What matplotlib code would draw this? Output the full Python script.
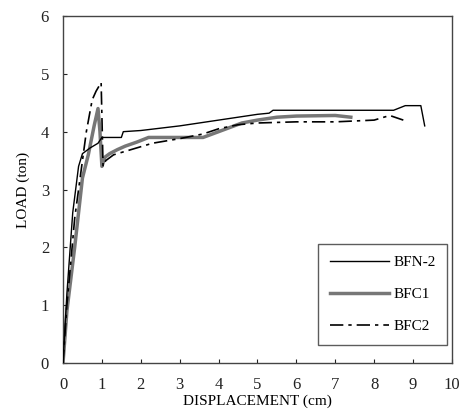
import matplotlib
matplotlib.use("Agg")
import matplotlib.pyplot as plt

# ---- data ----
bfn2_x = [0, 0.1, 0.25, 0.4, 0.5, 0.7, 0.9, 1.0, 1.5, 1.55, 2.0, 2.5, 3.0, 3.5, 4.0, 4.5, 5.0, 5.3, 5.4, 6.5, 7.5, 8.5, 8.8, 9.2, 9.3]
bfn2_y = [0, 1.2, 2.6, 3.4, 3.62, 3.72, 3.8, 3.9, 3.9, 4.0, 4.02, 4.06, 4.1, 4.15, 4.2, 4.25, 4.3, 4.32, 4.37, 4.37, 4.37, 4.37, 4.45, 4.45, 4.1]

bfc1_x = [0, 0.1, 0.3, 0.5, 0.65, 0.8, 0.9, 0.95, 1.0, 1.08, 1.2, 1.4, 1.6, 1.9, 2.2, 2.8, 3.6, 3.8, 4.2, 4.6, 5.0, 5.5, 6.0, 7.0, 7.4]
bfc1_y = [0, 0.9, 2.0, 3.2, 3.6, 4.1, 4.4, 4.0, 3.4, 3.56, 3.62, 3.69, 3.75, 3.82, 3.9, 3.9, 3.9, 3.95, 4.05, 4.15, 4.2, 4.25, 4.27, 4.28, 4.25]

bfc2_x = [0, 0.1, 0.3, 0.5, 0.6, 0.75, 0.85, 0.98, 1.03, 1.1, 1.3, 1.8, 2.3, 3.0, 3.6, 4.0, 4.5, 5.0, 6.0, 7.0, 8.0, 8.4, 8.75]
bfc2_y = [0, 1.0, 2.5, 3.5, 4.0, 4.55, 4.7, 4.85, 3.4, 3.5, 3.6, 3.7, 3.8, 3.88, 3.96, 4.05, 4.12, 4.15, 4.17, 4.17, 4.2, 4.28, 4.2]

series_labels = ["BFN-2", "BFC1", "BFC2"]
x_ticks = [0, 1, 2, 3, 4, 5, 6, 7, 8, 9, 10]
y_ticks = [0, 1, 2, 3, 4, 5, 6]

plt.rcParams['font.family'] = ['Liberation Serif', 'DejaVu Serif']

fig = plt.figure(figsize=(4.64, 4.18), dpi=100)
ax = fig.add_axes([0.1358, 0.1316, 0.974 - 0.1358, 0.9617 - 0.1316])

ax.plot(bfn2_x, bfn2_y, color='black', lw=1.0, label=series_labels[0], zorder=3)
ax.plot(bfc1_x, bfc1_y, color='#777777', lw=2.5, label=series_labels[1], zorder=2)
ax.plot(bfc2_x, bfc2_y, color='black', lw=1.2, linestyle=(0, (8, 3, 2, 3)), label=series_labels[2], zorder=3)

ax.set_xlim(0, 10)
ax.set_ylim(0, 6)
ax.set_xticks(x_ticks)
ax.set_yticks(y_ticks)
ax.tick_params(direction='in', length=3, width=0.8, labelsize=12, pad=10, colors='#222222')
for s in ax.spines.values():
    s.set_color('#444444')
    s.set_linewidth(1.0)

ax.set_xlabel('DISPLACEMENT (cm)', fontsize=11, labelpad=1)
ax.set_ylabel('LOAD (ton)', fontsize=11, labelpad=8)

leg = ax.legend(loc='lower right', bbox_to_anchor=(0.987, 0.052), fontsize=11,
                frameon=True, fancybox=False, edgecolor='#333333', handlelength=3.9,
                handletextpad=0.25, labelspacing=1.2, borderpad=0.75, borderaxespad=0)
leg.get_frame().set_linewidth(1.0)

fig.savefig('out.png', dpi=100, facecolor='white')
